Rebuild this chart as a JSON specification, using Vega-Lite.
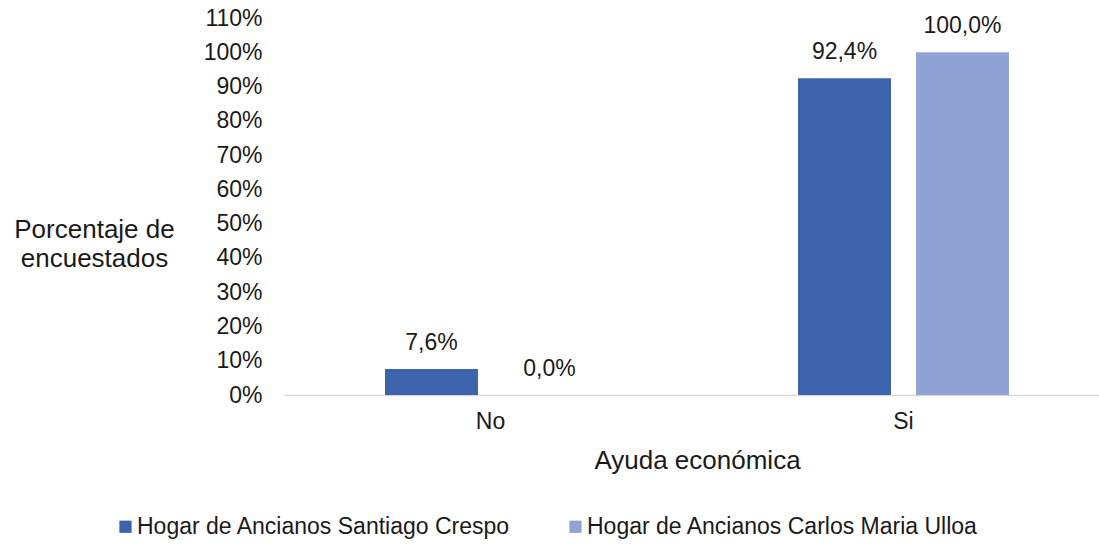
{
  "$schema": "https://vega.github.io/schema/vega-lite/v6.json",
  "autosize": {"type": "none"},
  "width": 815,
  "height": 377,
  "padding": {"left": 284, "top": 18, "right": 0, "bottom": 149},
  "background": "white",
  "config": {
    "locale": {"number": {"decimal": ",", "thousands": ".", "grouping": [3], "currency": ["", " €"]}},
    "font": "Liberation Sans",
    "view": {"stroke": null},
    "axis": {"labelFont": "Liberation Sans", "titleFont": "Liberation Sans", "labelColor": "#1a1a1a", "titleColor": "#1a1a1a", "titleFontWeight": "normal"}
  },
  "data": {
    "values": [
      {"ayuda": "No", "hogar": "Hogar de Ancianos Santiago Crespo", "pct": 0.076},
      {"ayuda": "No", "hogar": "Hogar de Ancianos Carlos Maria Ulloa", "pct": 0.0},
      {"ayuda": "Si", "hogar": "Hogar de Ancianos Santiago Crespo", "pct": 0.924},
      {"ayuda": "Si", "hogar": "Hogar de Ancianos Carlos Maria Ulloa", "pct": 1.0}
    ]
  },
  "encoding": {
    "x": {
      "field": "ayuda", "type": "nominal", "sort": ["No", "Si"],
      "scale": {"range": [0, 826], "paddingInner": 0, "paddingOuter": 0},
      "axis": {
        "title": "Ayuda económica", "titleFontSize": 26, "titlePadding": 14,
        "labelAngle": 0, "labelFontSize": 23, "labelPadding": 15,
        "ticks": false, "domainColor": "#d9d9d9", "domainWidth": 1.5, "grid": false
      }
    },
    "xOffset": {
      "field": "hogar", "type": "nominal",
      "sort": ["Hogar de Ancianos Santiago Crespo", "Hogar de Ancianos Carlos Maria Ulloa"],
      "scale": {"paddingInner": 0.212, "paddingOuter": 0.856}
    },
    "y": {
      "field": "pct", "type": "quantitative",
      "scale": {"domain": [0, 1.1], "nice": false},
      "axis": {
        "values": [0, 0.1, 0.2, 0.3, 0.4, 0.5, 0.6, 0.7, 0.8, 0.9, 1.0, 1.1],
        "format": ".0%", "labelFontSize": 23, "labelPadding": 22,
        "domain": false, "ticks": false, "grid": false,
        "title": ["Porcentaje de", "encuestados"], "titleAngle": 0, "titleFontSize": 26,
        "titleAlign": "center", "titleBaseline": "middle", "titleLineHeight": 29,
        "titleX": -190, "titleY": 211
      }
    }
  },
  "layer": [
    {
      "mark": {"type": "bar"},
      "encoding": {
        "color": {
          "field": "hogar", "type": "nominal",
          "sort": ["Hogar de Ancianos Santiago Crespo", "Hogar de Ancianos Carlos Maria Ulloa"],
          "scale": {"range": ["#3c64ad", "#8fa3d4"]},
          "legend": {
            "title": null, "orient": "none", "direction": "horizontal",
            "legendX": -170, "legendY": 497,
            "symbolType": "square", "symbolSize": 150, "symbolStrokeWidth": 0,
            "labelFontSize": 23, "labelFont": "Liberation Sans", "labelColor": "#1a1a1a",
            "labelOffset": 0, "columnPadding": 53, "labelLimit": 600
          }
        }
      }
    },
    {
      "mark": {"type": "text", "fontSize": 23, "color": "#1a1a1a", "baseline": "middle", "dy": -26},
      "encoding": {
        "text": {"field": "pct", "type": "quantitative", "format": ".1%"}
      }
    }
  ]
}
